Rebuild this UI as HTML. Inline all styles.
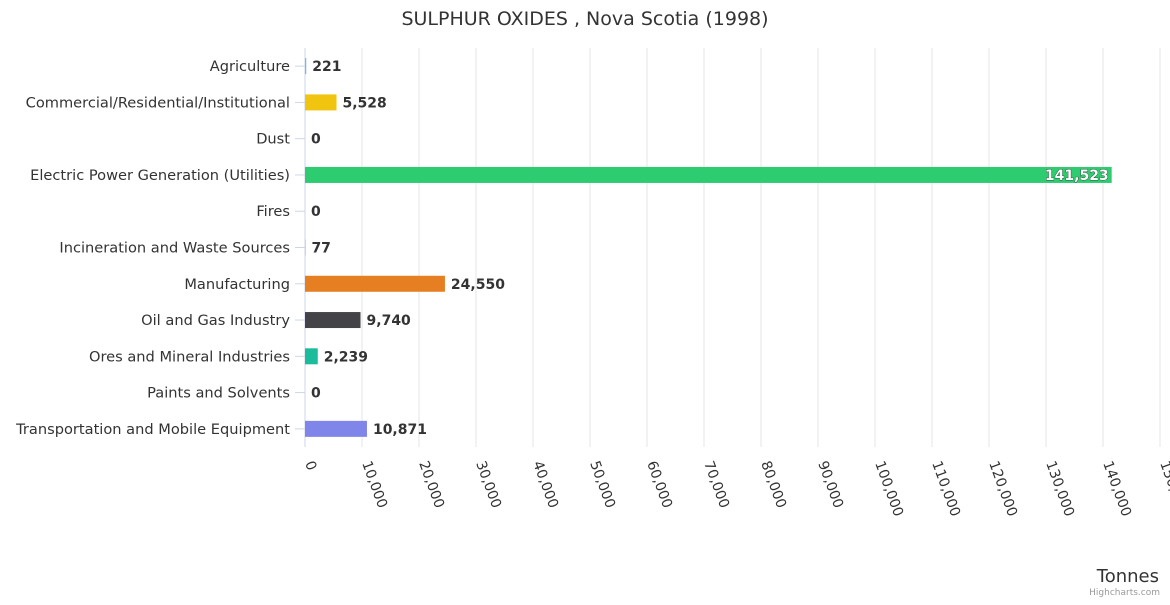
<!DOCTYPE html>
<html><head><meta charset="utf-8"><style>
body{margin:0;background:#fff;font-family:"Liberation Sans","DejaVu Sans",sans-serif}
svg text{font-family:"DejaVu Sans","Liberation Sans",sans-serif}
</style></head><body>
<svg id="chart" width="1170" height="600" xmlns="http://www.w3.org/2000/svg">
<text x="585" y="25" text-anchor="middle" font-size="19" fill="#333">SULPHUR OXIDES , Nova Scotia (1998)</text>
<g id="grid"></g><g id="bars"></g><g id="ylabels"></g><g id="xlabels"></g>
<text x="1159" y="582" text-anchor="end" font-size="18" fill="#333">Tonnes</text>
<text x="1160" y="595" text-anchor="end" font-size="9" fill="#999">Highcharts.com</text>
</svg>
<script>
const categories=["Agriculture","Commercial/Residential/Institutional","Dust","Electric Power Generation (Utilities)","Fires","Incineration and Waste Sources","Manufacturing","Oil and Gas Industry","Ores and Mineral Industries","Paints and Solvents","Transportation and Mobile Equipment"];
const values=[221,5528,0,141523,0,77,24550,9740,2239,0,10871];
const colors=["#7cb5ec","#f1c40f","#2c3e50","#2ecc71","#e74c3c","#95a5a6","#e67e22","#434348","#1abc9c","#9b59b6","#8085e9"];
const ticks=[0,10000,20000,30000,40000,50000,60000,70000,80000,90000,100000,110000,120000,130000,140000,150000];
const NS="http://www.w3.org/2000/svg";
const x0=305,x1=1160,plotTop=48,plotBot=447,maxV=150000;
const xs=v=>x0+(v/maxV)*(x1-x0);
const band=(plotBot-plotTop)/categories.length;
const yc=i=>plotTop+band*(i+0.5);
function mk(t,a,p){const e=document.createElementNS(NS,t);for(const k in a)e.setAttribute(k,a[k]);p.appendChild(e);return e;}
const fmt=v=>v.toLocaleString('en-US');
const g=document.getElementById('grid'),b=document.getElementById('bars'),yl=document.getElementById('ylabels'),xl=document.getElementById('xlabels');
ticks.forEach(t=>{
 const l=mk('line',{x1:xs(t),x2:xs(t),y1:plotTop,y2:plotBot,stroke:t===0?'#ccd6eb':'#e6e6e6','stroke-width':1},g);
 
 
 const x=xs(t),y=463;
 const tx=mk('text',{x:x,y:y,'font-size':14,fill:'#333',transform:`rotate(70 ${x} ${y})`},xl);
 tx.textContent=fmt(t);
 
 
});
categories.forEach((c,i)=>{
 const y=yc(i);
 const tk=mk('line',{x1:295,x2:305,y1:y,y2:y,stroke:'#ccd6eb'},g);
 
 
 const lab=mk('text',{x:290,y:y+5,'text-anchor':'end','font-size':14.6,fill:'#333'},yl);
 lab.textContent=c;
 
 
 const w=xs(values[i])-x0;
 const r=mk('rect',{x:x0,y:y-8,width:Math.max(w,0),height:16,fill:colors[i]},b);
 
 
 const inside=w>800;
 const vt=mk('text',{x:inside?xs(values[i])-3:xs(values[i])+6,y:y+5,'text-anchor':inside?'end':'start','font-size':14,'font-weight':'bold',fill:inside?'#fff':'#333',stroke:inside?'#333':'none','stroke-width':inside?0.8:0,'paint-order':'stroke'},b);
 vt.textContent=fmt(values[i]);
 
 
});
</script>
</body></html>
